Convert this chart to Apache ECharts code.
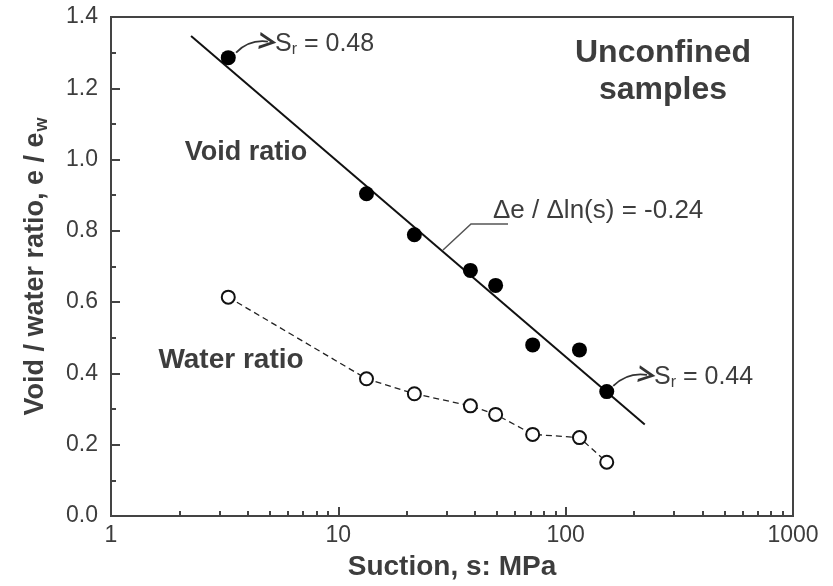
<!DOCTYPE html>
<html>
<head>
<meta charset="utf-8">
<script src="https://cdn.jsdelivr.net/npm/echarts@6/dist/echarts.min.js"></script>
<style>
  html, body { margin: 0; padding: 0; background: #fff; }
  #chart { width: 833px; height: 586px; }
</style>
</head>
<body>
<div id="chart"></div>
<script>
// suction (MPa) and ratios
var suction = [3.28, 13.3, 21.6, 38.1, 49.2, 71.6, 115, 151.6];
var voidRatio = [1.286, 0.904, 0.789, 0.689, 0.647, 0.480, 0.466, 0.349];
var waterRatio = [0.614, 0.385, 0.343, 0.309, 0.285, 0.229, 0.220, 0.151];

// fitted line, de / dln(s) = -0.24
var fitSuction = [2.25, 222.8];
var fitVoid = [1.347, 0.257];

// arrows to the Sr notes: [from, to]
var arrowFrom = [[3.55, 1.300], [162, 0.365]];
var arrowTo = [[4.9, 1.331], [228, 0.396]];

var xTicks = [1, 10, 100, 1000];
var yTicks = [0, 0.2, 0.4, 0.6, 0.8, 1.0, 1.2, 1.4];

// minor ticks 2..9 in each decade
var minorX = [];
for (var d = 1; d < 1000; d *= 10)
    for (var k = 2; k < 10; k++) minorX.push(k * d);

var ink = '#3d3d3d';
var font = 'Liberation Sans, Arial, sans-serif';
var chevron = 'path://M0,10 L6,0 L12,10 L9.8,10 L6,3.6 L2.2,10 Z';

var pairs = function(xs, ys) {
    var out = [], i;
    for (i = 0; i < xs.length; i++) out.push([xs[i], ys[i]]);
    return out;
};

var arrows = [];
for (var i = 0; i < arrowFrom.length; i++) arrows.push({ coords: [arrowFrom[i], arrowTo[i]] });

var chart = echarts.init(document.getElementById('chart'));

chart.setOption({
    animation: false,
    grid: {
        left: 111, top: 17, width: 682, height: 502,
        show: true, borderColor: '#444', borderWidth: 2, backgroundColor: 'transparent'
    },
    xAxis: [{
        type: 'log', logBase: 10, min: xTicks[0], max: xTicks[xTicks.length - 1],
        name: 'Suction, s: MPa', nameLocation: 'middle', nameGap: 37,
        nameTextStyle: { fontFamily: font, fontSize: 28, fontWeight: 'bold', color: ink },
        axisLine: { lineStyle: { color: '#444', width: 2 } },
        axisTick: { inside: true, length: 9, lineStyle: { color: '#444', width: 2 } },
        axisLabel: { margin: 8, fontFamily: font, fontSize: 23, color: ink, formatter: function(v) { return String(v); } },
        splitLine: { show: false }
    }, {
        type: 'log', logBase: 10, min: xTicks[0], max: xTicks[xTicks.length - 1],
        position: 'bottom',
        axisLine: { show: false },
        axisTick: { show: true, inside: true, length: 5, customValues: minorX, lineStyle: { color: '#444', width: 2 } },
        axisLabel: { show: false },
        splitLine: { show: false }
    }],
    yAxis: {
        type: 'value', min: yTicks[0], max: yTicks[yTicks.length - 1], interval: 0.2,
        name: '{a|Void / water ratio, e / e}{b|w}', nameLocation: 'middle', nameGap: 60,
        nameTextStyle: {
            rich: {
                a: { fontFamily: font, fontSize: 27, fontWeight: 'bold', color: ink },
                b: { fontFamily: font, fontSize: 18, fontWeight: 'bold', color: ink, padding: [12, 0, 0, 1] }
            }
        },
        axisLine: { lineStyle: { color: '#444', width: 2 } },
        axisTick: { inside: true, length: 9, lineStyle: { color: '#444', width: 2 } },
        minorTick: { show: true, splitNumber: 2, length: 5, lineStyle: { color: '#444', width: 2 } },
        axisLabel: { margin: 13, fontFamily: font, fontSize: 23, color: ink, formatter: function(v) { return v.toFixed(1); } },
        splitLine: { show: false }
    },
    series: [{
        name: 'fit', type: 'line', data: pairs(fitSuction, fitVoid),
        symbol: 'none', lineStyle: { color: '#111', width: 2 }, z: 2
    }, {
        name: 'Void ratio', type: 'scatter', data: pairs(suction, voidRatio),
        symbol: 'circle', symbolSize: 15, itemStyle: { color: '#000', opacity: 1 }, z: 3
    }, {
        name: 'Water ratio', type: 'line', data: pairs(suction, waterRatio),
        symbol: 'emptyCircle', symbolSize: 13, showAllSymbol: true,
        lineStyle: { color: '#222', width: 1.3, type: [6, 4] },
        itemStyle: { color: '#111', borderWidth: 1.6 }, z: 3
    }, {
        name: 'arrows', type: 'lines', coordinateSystem: 'cartesian2d',
        data: arrows, symbol: ['none', chevron], symbolSize: 17,
        lineStyle: { color: '#333', width: 1.8, curveness: 0.25, opacity: 1 }, z: 4
    }],
    graphic: [
        {
            type: 'text', x: 275, y: 44,
            style: {
                text: '{s|S}{r|r}{s| = 0.48}', verticalAlign: 'middle', align: 'left',
                rich: {
                    s: { fontFamily: font, fontSize: 25, fill: ink },
                    r: { fontFamily: font, fontSize: 16, fill: ink, padding: [12, 0, 0, 0] }
                }
            }
        },
        {
            type: 'text', x: 654, y: 377,
            style: {
                text: '{s|S}{r|r}{s| = 0.44}', verticalAlign: 'middle', align: 'left',
                rich: {
                    s: { fontFamily: font, fontSize: 25, fill: ink },
                    r: { fontFamily: font, fontSize: 16, fill: ink, padding: [12, 0, 0, 0] }
                }
            }
        },
        {
            type: 'text', x: 493, y: 211,
            style: { text: '\u0394e / \u0394ln(s) = -0.24', fontFamily: font, fontSize: 26, fill: ink, verticalAlign: 'middle', align: 'left' }
        },
        {
            type: 'polyline',
            shape: { points: [[443, 250], [471, 224], [508, 224]] },
            style: { stroke: '#555', lineWidth: 1.5, fill: null }
        },
        {
            type: 'text', x: 246, y: 153,
            style: { text: 'Void ratio', fontFamily: font, fontSize: 27, fontWeight: 'bold', fill: ink, verticalAlign: 'middle', align: 'center' }
        },
        {
            type: 'text', x: 231, y: 360,
            style: { text: 'Water ratio', fontFamily: font, fontSize: 28, fontWeight: 'bold', fill: ink, verticalAlign: 'middle', align: 'center' }
        },
        {
            type: 'text', x: 663, y: 53,
            style: { text: 'Unconfined', fontFamily: font, fontSize: 32, fontWeight: 'bold', fill: ink, verticalAlign: 'middle', align: 'center' }
        },
        {
            type: 'text', x: 663, y: 90,
            style: { text: 'samples', fontFamily: font, fontSize: 32, fontWeight: 'bold', fill: ink, verticalAlign: 'middle', align: 'center' }
        }
    ]
});
</script>
</body>
</html>
